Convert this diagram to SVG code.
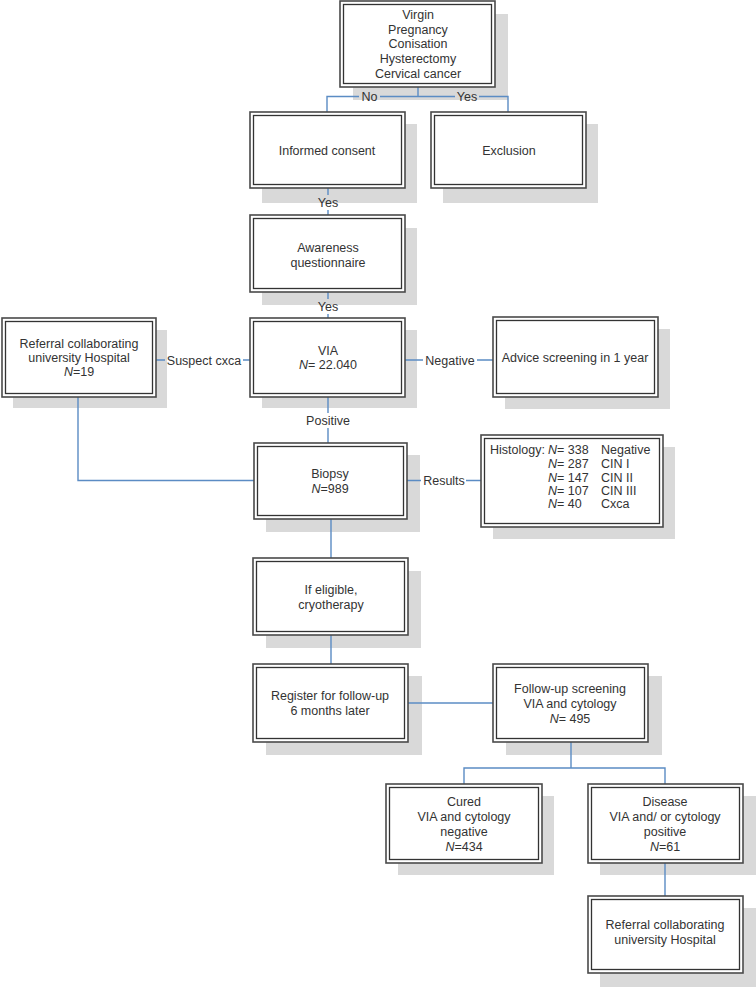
<svg xmlns="http://www.w3.org/2000/svg" width="756" height="987" viewBox="0 0 756 987">
<style>
.sh{fill:#d9d9d9}
.bo{fill:#fff;stroke:#4a4a4a;stroke-width:1.6}
.bi{fill:none;stroke:#333;stroke-width:1.3}
.ln{fill:none;stroke:#5b8cc4;stroke-width:1.4}
text{font-family:"Liberation Sans",Arial,sans-serif;font-size:12.5px;fill:#333;text-anchor:middle}
.l{text-anchor:start}
.i{font-style:italic}
</style>
<rect width="756" height="987" fill="#fff"/>
<g id="shadows">
<rect class="sh" x="353" y="14" width="155" height="86"/>
<rect class="sh" x="262" y="124" width="155" height="79"/>
<rect class="sh" x="443" y="124" width="155" height="79"/>
<rect class="sh" x="262" y="228" width="155" height="77"/>
<rect class="sh" x="13" y="330" width="154" height="78"/>
<rect class="sh" x="262" y="330" width="155" height="78"/>
<rect class="sh" x="505" y="329" width="165" height="80"/>
<rect class="sh" x="266" y="455" width="154" height="77"/>
<rect class="sh" x="493" y="447" width="182" height="92"/>
<rect class="sh" x="266" y="571" width="155" height="77"/>
<rect class="sh" x="266" y="676" width="156" height="79"/>
<rect class="sh" x="506" y="676" width="156" height="79"/>
<rect class="sh" x="398" y="796" width="156" height="79"/>
<rect class="sh" x="600" y="796" width="156" height="79"/>
<rect class="sh" x="600" y="908" width="156" height="79"/>
</g>
<g id="connectors">
<path class="ln" d="M418 87V96.5M327 112V96.5H359M380 96.5H455M479 96.5H508V112"/>
<path class="ln" d="M328 188V195M328 210V215"/>
<path class="ln" d="M328 292V299M328 314V318"/>
<path class="ln" d="M156 360H165M243 360H250"/>
<path class="ln" d="M405 360H423M477 360H493"/>
<path class="ln" d="M328 397V413M328 428V443"/>
<path class="ln" d="M78 397V480.5H254"/>
<path class="ln" d="M407 480.5H421M466 480.5H481"/>
<path class="ln" d="M331 519V558M331 635V664"/>
<path class="ln" d="M408 703H493"/>
<path class="ln" d="M571 742V768M464 784V768H665V784M665 863V896"/>
</g>
<g id="n_criteria">
<rect class="bo" x="340" y="1" width="155" height="86"/><rect class="bi" x="343.5" y="4.5" width="148" height="79"/>
<text x="418" y="18.5">Virgin</text><text x="418" y="33.5">Pregnancy</text><text x="418" y="48">Conisation</text><text x="418" y="63">Hysterectomy</text><text x="418" y="78">Cervical cancer</text>
</g>
<g id="n_consent">
<rect class="bo" x="250" y="112" width="155" height="76"/><rect class="bi" x="253.5" y="115.5" width="148" height="69"/>
<text x="327" y="154.5">Informed consent</text>
</g>
<g id="n_exclusion">
<rect class="bo" x="431" y="112" width="155" height="76"/><rect class="bi" x="434.5" y="115.5" width="148" height="69"/>
<text x="509" y="154.5">Exclusion</text>
</g>
<g id="n_awareness">
<rect class="bo" x="250" y="215" width="155" height="77"/><rect class="bi" x="253.5" y="218.5" width="148" height="70"/>
<text x="328" y="251.5">Awareness</text><text x="328" y="266.5">questionnaire</text>
</g>
<g id="n_referral1">
<rect class="bo" x="2" y="318" width="154" height="79"/><rect class="bi" x="5.5" y="321.5" width="147" height="72"/>
<text x="79" y="347.5">Referral collaborating</text><text x="79" y="361.5">university Hospital</text><text x="79" y="375.5"><tspan class="i">N</tspan>=19</text>
</g>
<g id="n_via">
<rect class="bo" x="250" y="318" width="155" height="79"/><rect class="bi" x="253.5" y="321.5" width="148" height="72"/>
<text x="328" y="354.5">VIA</text><text x="328" y="368.5"><tspan class="i">N</tspan>= 22.040</text>
</g>
<g id="n_advice">
<rect class="bo" x="493" y="317" width="165" height="80"/><rect class="bi" x="496.5" y="320.5" width="158" height="73"/>
<text x="575" y="361.5">Advice screening in 1 year</text>
</g>
<g id="n_biopsy">
<rect class="bo" x="254" y="443" width="153" height="76"/><rect class="bi" x="257.5" y="446.5" width="146" height="69"/>
<text x="330" y="477.5">Biopsy</text><text x="330" y="492.5"><tspan class="i">N</tspan>=989</text>
</g>
<g id="n_histology">
<rect class="bo" x="481" y="435" width="182" height="92"/><rect class="bi" x="484.5" y="438.5" width="175" height="85"/>
<text class="l" x="490" y="453.5">Histology:</text>
<text class="l" x="548" y="453.5"><tspan class="i">N</tspan>= 338</text><text class="l" x="601" y="453.5">Negative</text>
<text class="l" x="548" y="467.5"><tspan class="i">N</tspan>= 287</text><text class="l" x="601" y="467.5">CIN I</text>
<text class="l" x="548" y="481.5"><tspan class="i">N</tspan>= 147</text><text class="l" x="601" y="481.5">CIN II</text>
<text class="l" x="548" y="494.5"><tspan class="i">N</tspan>= 107</text><text class="l" x="601" y="494.5">CIN III</text>
<text class="l" x="548" y="507.5"><tspan class="i">N</tspan>= 40</text><text class="l" x="601" y="507.5">Cxca</text>
</g>
<g id="n_cryo">
<rect class="bo" x="253" y="558" width="155" height="77"/><rect class="bi" x="256.5" y="561.5" width="148" height="70"/>
<text x="331" y="593.5">If eligible,</text><text x="331" y="608.5">cryotherapy</text>
</g>
<g id="n_register">
<rect class="bo" x="253" y="664" width="155" height="78"/><rect class="bi" x="256.5" y="667.5" width="148" height="71"/>
<text x="330" y="699.5">Register for follow-up</text><text x="330" y="714.5">6 months later</text>
</g>
<g id="n_followup">
<rect class="bo" x="493" y="664" width="155" height="78"/><rect class="bi" x="496.5" y="667.5" width="148" height="71"/>
<text x="570" y="692.5">Follow-up screening</text><text x="570" y="707.5">VIA and cytology</text><text x="570" y="722.5"><tspan class="i">N</tspan>= 495</text>
</g>
<g id="n_cured">
<rect class="bo" x="386" y="784" width="156" height="79"/><rect class="bi" x="389.5" y="787.5" width="149" height="72"/>
<text x="464" y="805.5">Cured</text><text x="464" y="820.5">VIA and cytology</text><text x="464" y="835.5">negative</text><text x="464" y="850.5"><tspan class="i">N</tspan>=434</text>
</g>
<g id="n_disease">
<rect class="bo" x="588" y="784" width="155" height="79"/><rect class="bi" x="591.5" y="787.5" width="148" height="72"/>
<text x="665" y="805.5">Disease</text><text x="665" y="820.5">VIA and/ or cytology</text><text x="665" y="835.5">positive</text><text x="665" y="850.5"><tspan class="i">N</tspan>=61</text>
</g>
<g id="n_referral2">
<rect class="bo" x="588" y="896" width="155" height="77"/><rect class="bi" x="591.5" y="899.5" width="148" height="70"/>
<text x="665" y="928.5">Referral collaborating</text><text x="665" y="943.5">university Hospital</text>
</g>
<g id="labels">
<text x="369.5" y="101">No</text>
<text x="467" y="101">Yes</text>
<text x="328" y="206.5">Yes</text>
<text x="328" y="310.5">Yes</text>
<text x="204" y="364.5">Suspect cxca</text>
<text x="450" y="364.5">Negative</text>
<text x="328" y="424.5">Positive</text>
<text x="444" y="485">Results</text>
</g>
</svg>
